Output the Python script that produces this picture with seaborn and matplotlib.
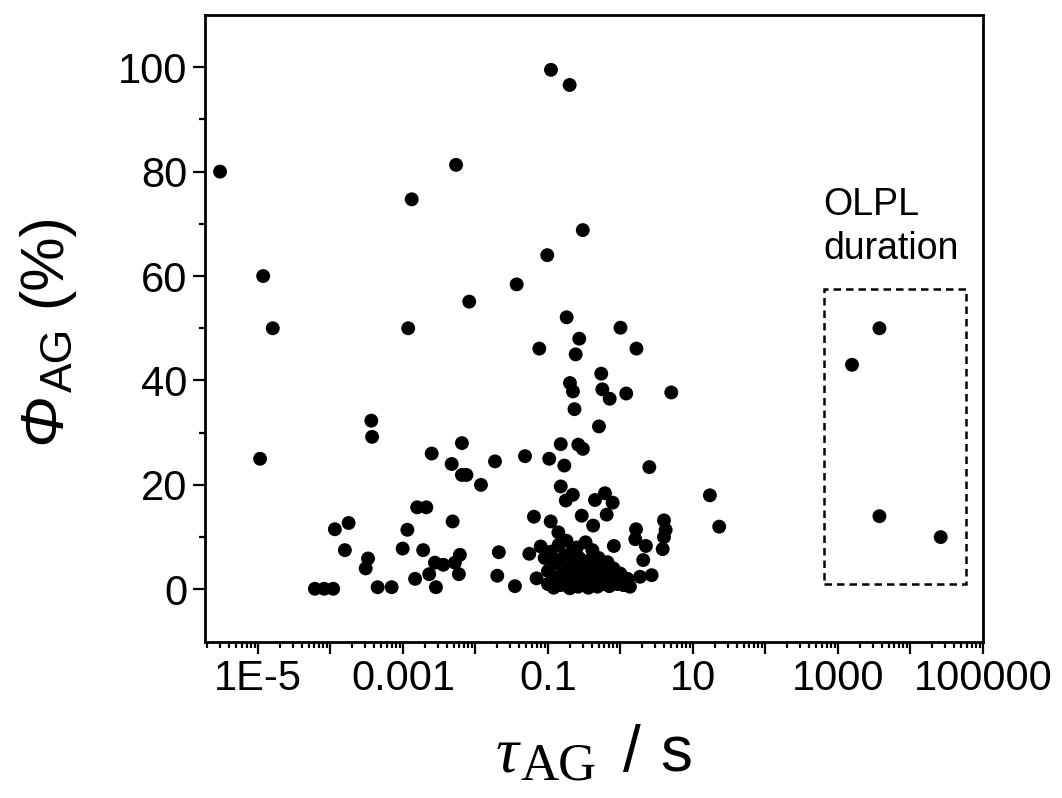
import numpy as np
import pandas as pd
import matplotlib
matplotlib.use("Agg")
import matplotlib.pyplot as plt
import seaborn as sns
from matplotlib.ticker import FixedLocator, FuncFormatter, LogLocator, NullFormatter
from matplotlib.patches import Rectangle
from matplotlib.transforms import IdentityTransform

# ---------------- data (tau_AG in s, Phi_AG in %) ----------------
tau_left = [3.0e-6, 1.18e-5, 1.6e-5, 1.07e-5, 1.32e-3, 5.4e-3, 8.2e-3, 1.18e-3,
            3.66e-4, 3.75e-4, 2.49e-3, 6.5e-3, 4.7e-3, 6.5e-3, 7.5e-3, 1.19e-2,
            1.86e-2, 1.57e-3, 2.1e-3, 1.15e-4, 1.78e-4, 1.15e-3, 4.84e-3, 1.58e-4,
            9.9e-4, 1.9e-3, 3.3e-4, 3.06e-4, 2.76e-3, 3.6e-3, 5.2e-3, 6.1e-3,
            2.3e-3, 5.9e-3, 1.47e-3, 2.85e-3, 6.1e-5, 8.2e-5, 1.09e-4, 4.47e-4,
            6.98e-4, 2.1e-2, 2.0e-2]
phi_left = [80.0, 60.0, 50.0, 25.0, 74.7, 81.3, 55.1, 50.0,
            32.3, 29.2, 26.0, 28.0, 24.0, 21.9, 21.9, 20.0,
            24.5, 15.7, 15.7, 11.5, 12.7, 11.4, 13.0, 7.5,
            7.8, 7.5, 5.9, 4.0, 5.1, 4.7, 5.1, 6.6,
            2.9, 2.9, 2.0, 0.4, 0.1, 0.1, 0.1, 0.4,
            0.4, 7.1, 2.6]

tau_mid = [0.11, 0.199, 0.302, 0.0977, 0.037, 0.181, 1.0, 0.27, 0.0759, 1.66,
           0.241, 0.543, 0.201, 0.221, 0.562, 0.71, 1.2, 5.02, 0.232, 0.505,
           0.15, 0.262, 0.303, 0.0482, 0.104, 0.168, 0.15, 0.176, 0.22, 0.611,
           0.445, 0.78, 0.645, 0.292, 0.064, 0.109, 0.139, 0.42, 0.0553, 0.0794,
           0.035, 0.0696, 0.81, 2.5, 17.1, 23.0, 3.98, 4.2, 3.98, 3.82,
           1.64, 1.6, 2.24, 2.06, 2.69, 1.86, 1.35]
phi_mid = [99.5, 96.6, 68.8, 64.0, 58.4, 52.1, 50.1, 48.0, 46.1, 46.1,
           45.0, 41.3, 39.5, 37.9, 38.3, 36.5, 37.5, 37.7, 34.5, 31.2,
           27.8, 27.7, 26.9, 25.5, 25.0, 23.7, 19.7, 17.0, 18.1, 18.4,
           17.1, 16.6, 14.3, 14.1, 13.9, 13.0, 10.9, 12.2, 6.8, 8.2,
           0.6, 2.1, 8.3, 23.4, 18.0, 12.0, 13.2, 11.4, 10.0, 7.7,
           11.5, 9.6, 8.3, 5.6, 2.7, 2.4, 0.5]

tau_blob = [0.09, 0.10, 0.10, 0.11, 0.12, 0.12, 0.13, 0.14, 0.14, 0.15,
            0.16, 0.17, 0.17, 0.18, 0.19, 0.20, 0.20, 0.21, 0.22, 0.23,
            0.24, 0.25, 0.26, 0.27, 0.28, 0.30, 0.31, 0.33, 0.34, 0.36,
            0.37, 0.39, 0.41, 0.43, 0.45, 0.48, 0.50, 0.52, 0.55, 0.58,
            0.62, 0.66, 0.70, 0.75, 0.80, 0.90, 1.0, 1.1, 1.25]
phi_blob = [6.0, 3.5, 1.0, 7.2, 4.8, 0.3, 2.2, 8.5, 5.5, 0.8,
            3.0, 6.5, 1.5, 9.3, 4.0, 0.2, 2.5, 7.0, 5.0, 1.0,
            3.2, 8.0, 0.5, 6.0, 2.0, 4.5, 1.2, 9.0, 3.0, 0.3,
            5.5, 2.0, 7.5, 1.0, 3.8, 0.5, 6.0, 2.5, 4.5, 1.0,
            3.0, 5.2, 0.6, 2.0, 4.0, 1.0, 3.0, 0.8, 2.0]

tau_olpl = [1560.0, 3730.0, 3730.0, 26100.0]
phi_olpl = [43.0, 50.0, 14.0, 10.0]

x_tick_values = [1e-5, 1e-3, 1e-1, 1e1, 1e3, 1e5]
x_tick_labels = ["1E-5", "0.001", "0.1", "10", "1000", "100000"]
y_tick_values = [0, 20, 40, 60, 80, 100]
y_tick_labels = ["0", "20", "40", "60", "80", "100"]

box_text = "OLPL\nduration"

# ---------------- style ----------------
sns.set_theme(style="ticks")
plt.rcParams["font.family"] = ["Liberation Sans", "DejaVu Sans"]

W, H = 1062, 798
fig = plt.figure(figsize=(W / 100, H / 100), dpi=100)
L, R, T, B = 205, 983, 15, 641.5
ax = fig.add_axes([L / W, 1 - B / H, (R - L) / W, (B - T) / H])

df = pd.DataFrame({
    "tau": tau_left + tau_mid + tau_blob + tau_olpl,
    "phi": phi_left + phi_mid + phi_blob + phi_olpl,
})
sns.scatterplot(data=df, x="tau", y="phi", ax=ax, color="black", s=100,
                linewidth=0, edgecolor="none", legend=False, zorder=3)

ax.set_xscale("log")
ax.set_xlim(1.86e-6, 1e5)
ax.set_ylim(-10, 110)

lab_map = dict(zip(x_tick_values, x_tick_labels))
ax.xaxis.set_major_locator(FixedLocator(10.0 ** np.arange(-5, 6)))
ax.xaxis.set_major_formatter(FuncFormatter(
    lambda v, p: next((l for k, l in lab_map.items() if abs(np.log10(v) - np.log10(k)) < 1e-6), "")))
ax.xaxis.set_minor_locator(LogLocator(base=10, subs=np.arange(2, 10), numticks=40))
ax.xaxis.set_minor_formatter(NullFormatter())

ax.yaxis.set_major_locator(FixedLocator(y_tick_values))
ax.set_yticklabels(y_tick_labels)
ax.yaxis.set_minor_locator(FixedLocator([10, 30, 50, 70, 90]))

for s in ax.spines.values():
    s.set_linewidth(2.0)
    s.set_color("black")
ax.tick_params(axis="both", which="major", direction="out", length=8.6, width=1.6,
               labelsize=30, colors="black", pad=4)
ax.tick_params(axis="both", which="minor", direction="out", length=4.3, width=1.6,
               colors="black")
ax.tick_params(top=False, right=False, which="both")
ax.set_xlabel("")
ax.set_ylabel("")

# dashed box marking the OLPL duration points
ax.add_patch(Rectangle((635, 1.1), 58000 - 635, 57.6 - 1.1, fill=False,
                       edgecolor="black", linewidth=1.8, linestyle=(0, (3, 2)), zorder=2))
ax.text(635, 61.7, box_text, fontsize=27, ha="left", va="bottom",
        linespacing=1.3, color="black")


# ---------------- axis titles built from pieces (mixed fonts / big subscripts) ----------------
def pieces_label(pieces, center, base, vertical=False):
    """pieces: (text, text-kwargs, baseline drop in px, gap after in px)"""
    rnd = fig.canvas.get_renderer()
    objs = []
    for txt, kw, drop, gap in pieces:
        t = fig.text(0, 0, txt, transform=IdentityTransform(), ha="left", va="baseline",
                     rotation=90 if vertical else 0, rotation_mode="anchor",
                     color="black", **kw)
        bb = t.get_window_extent(rnd)
        objs.append((t, drop, gap, bb.height if vertical else bb.width))
    total = sum(o[3] for o in objs) + sum(o[2] for o in objs[:-1])
    pos = center - total / 2
    for t, drop, gap, size in objs:
        if vertical:
            t.set_position((base + drop, pos))
        else:
            t.set_position((pos, base - drop))
        pos += size + gap


serif_it = dict(family="Liberation Serif", style="italic", fontsize=46)
serif_rm = dict(family="Liberation Serif", fontsize=38)
sans_rm = dict(family="Liberation Sans", fontsize=46)
pieces_label([("τ", serif_it, 0, 2), ("AG", serif_rm, 9, 26),
              ("/", sans_rm, 0, 20), ("s", sans_rm, 0, 0)],
             center=(L + R) / 2, base=H - 771)

sans_it_y = dict(family="Liberation Sans", style="italic", fontsize=44)
sans_sub_y = dict(family="Liberation Sans", fontsize=32)
sans_y = dict(family="Liberation Sans", fontsize=44)
pieces_label([("Φ", sans_it_y, 0, 1), ("AG", sans_sub_y, 12, 20), ("(%)", sans_y, 0, 0)],
             center=H - (T + B) / 2, base=60, vertical=True)

fig.savefig("out.png", dpi=100, facecolor="white")
